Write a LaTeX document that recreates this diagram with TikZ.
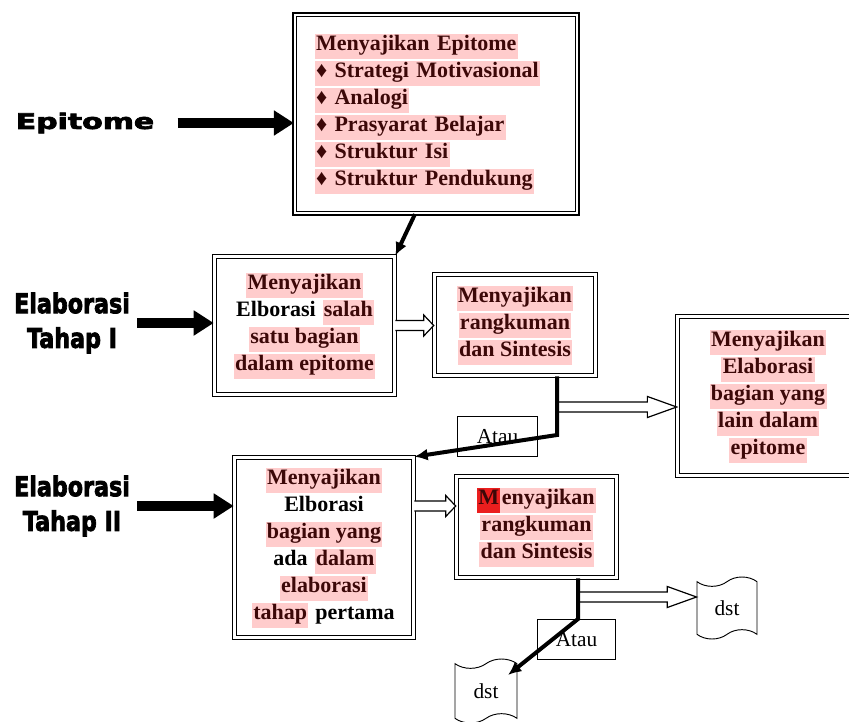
\documentclass[tikz,border=0pt]{standalone}
\usepackage{fontspec}
\setmainfont{Liberation Serif}
\newfontfamily\heavyfont{DejaVu Sans}[UprightFont={* Bold},FakeBold=3]
\usepackage{tikz}
\usetikzlibrary{arrows.meta,calc,shapes.symbols}
\definecolor{HlPink}{RGB}{255,204,204}
\definecolor{HlRed}{RGB}{235,30,30}
\definecolor{HlText}{RGB}{60,8,8}
\newcommand{\hl}[1]{{\setlength{\fboxsep}{1pt}\colorbox{HlPink}{\color{HlText}\strut#1}}}
\newcommand{\hlm}[1]{{\setlength{\fboxsep}{1pt}\colorbox{HlRed}{\color{HlText}\strut#1}}}
\newcommand{\nohl}[1]{{\setlength{\fboxsep}{1pt}\colorbox{white}{\strut#1}}}
\newcommand{\boxfont}{\fontsize{16.5}{16.75}\selectfont\lineskip=1.5pt\bfseries}
\newcommand{\labelfont}{\heavyfont\fontsize{17}{26}\selectfont}
\newcommand{\tall}[1]{\scalebox{0.98}[1.2]{#1}}
\newcommand{\hollowarrow}[3][7.5]{%
  \draw[hollow] let \p1=(#2), \p2=(#3) in
    (\x1,\y1+3.8pt) -- (\x2-#1pt,\y1+3.8pt) -- (\x2-#1pt,\y1+7.9pt) -- (\x2,\y1)
    -- (\x2-#1pt,\y1-7.9pt) -- (\x2-#1pt,\y1-3.8pt) -- (\x1,\y1-3.8pt);}

\begin{document}
\begin{tikzpicture}[x=0.75pt,y=-0.75pt,
  dbox/.style={draw,double,line width=1.2pt,double distance=1.6pt,fill=white,inner sep=2pt,align=center,font=\boxfont},
  thinbox/.style={draw,line width=0.7pt,fill=white,minimum width=60pt,minimum height=30pt,font=\fontsize{16}{18}\selectfont},
  dstbox/.style={draw,tape,tape bend height=7pt,line width=0.7pt,fill=white,minimum width=45pt,minimum height=46.5pt,inner sep=0pt,font=\fontsize{16}{18}\selectfont},
  sidelabel/.style={align=center,font=\labelfont},
  bigarrow/.style={line width=8pt,-{Triangle[length=15pt,width=18pt]}},
  thickline/.style={line width=3pt,line join=miter,-{Latex[length=10pt,width=9pt]}},
  hollow/.style={draw,line width=0.9pt,fill=white,line join=miter}]
\useasboundingbox (0,0) rectangle (849,721);
\clip (0,0) rectangle (849,721);

\node[dbox,minimum width=212pt,minimum height=149pt,text width=182pt,align=left,inner xsep=15pt](ep) at (436,114)
  {\hl{Menyajikan Epitome}\\ \hl{♦ Strategi Motivasional}\\ \hl{♦ Analogi}\\
   \hl{♦ Prasyarat Belajar}\\ \hl{♦ Struktur Isi}\\ \hl{♦ Struktur Pendukung}};
\node[dbox,minimum width=135pt,minimum height=103.5pt](e1) at (304.5,325.5)
  {\hl{Menyajikan}\\ \nohl{Elborasi} \hl{salah}\\ \hl{satu bagian}\\ \hl{dalam epitome}};
\node[dbox,minimum width=120.75pt,minimum height=75.75pt](r1) at (515,325)
  {\hl{Menyajikan}\\ \hl{rangkuman}\\ \hl{dan Sintesis}};
\node[dbox,minimum width=135.75pt,minimum height=119.25pt](rb) at (768,396)
  {\hl{Menyajikan}\\ \hl{Elaborasi}\\ \hl{bagian yang}\\ \hl{lain dalam}\\ \hl{epitome}};
\node[dbox,minimum width=134.25pt,minimum height=135pt](e2) at (324,547.5)
  {\hl{Menyajikan}\\ \nohl{Elborasi}\\ \hl{bagian yang}\\ \nohl{ada} \hl{dalam}\\ \hl{elaborasi}\\ \hl{tahap} \nohl{pertama}};
\node[dbox,minimum width=120pt,minimum height=75.75pt](r2) at (536.5,527)
  {\hlm{M}\hl{enyajikan}\\ \hl{rangkuman}\\ \hl{dan Sintesis}};

\node[thinbox](at1) at (497.5,436.5) {Atau};
\node[thinbox,minimum width=58.5pt](at2) at (576.5,639.5) {Atau};
\node[dstbox](d1) at (727,608) {dst};
\node[dstbox,minimum width=46.5pt,minimum height=48pt](d2) at (486,691) {dst};

\node[sidelabel](lbl1) at (85,123) {\scalebox{1.32}[0.95]{Epitome}};
\node[sidelabel](lbl2) at (72,323) {\tall{Elaborasi}\\\tall{Tahap I}};
\node[sidelabel](lbl3) at (72,506) {\tall{Elaborasi}\\\tall{Tahap II}};

\coordinate (k1) at (557,435);
\coordinate (s1) at (557,407);
\coordinate (k2) at (578,619);
\coordinate (s2) at (578,597);

\draw[bigarrow] ([xshift=14pt]lbl1.east) -- (lbl1 -| ep.west);
\draw[bigarrow] ([xshift=2pt]lbl2.east) -- (lbl2 -| e1.west);
\draw[bigarrow] ([xshift=2pt]lbl3.east) -- (lbl3 -| e2.west);

\hollowarrow{e1.east}{r1.west}
\hollowarrow{lbl3 -| e2.east}{lbl3 -| r2.west}
\hollowarrow[22]{s1}{s1 -| rb.west}
\hollowarrow[22]{s2}{s2 -| d1.west}

\draw[thickline] ($(ep.south west)!0.426!(ep.south east)$) -- (e1.north east);
\draw[thickline] (r1.south -| k1) -- (k1) -- (e2.north east);
\draw[thickline] (r2.south -| k2) -- (k2) -- ($(d2.center)+(22,-16)$);
\end{tikzpicture}
\end{document}
